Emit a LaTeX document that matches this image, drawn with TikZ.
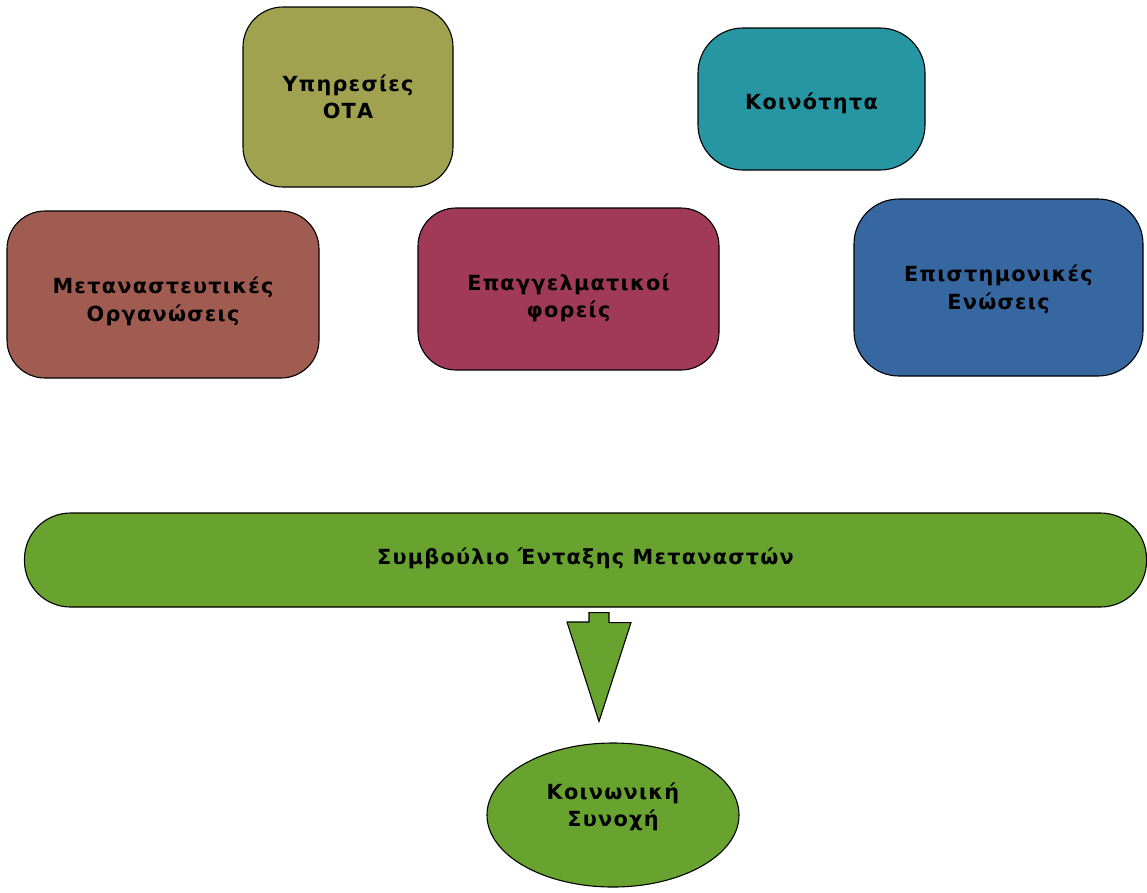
\documentclass[tikz,border=0pt]{standalone}
\usepackage{fontspec}
\setmainfont{DejaVu Sans}[BoldFont={DejaVu Sans Bold}]
\newfontfamily\boxfont{DejaVu Sans Bold}[LetterSpace=6]
\usetikzlibrary{shapes.geometric}
\definecolor{olivebox}{HTML}{A0A24F}
\definecolor{tealbox}{HTML}{2596A2}
\definecolor{brownbox}{HTML}{A15C52}
\definecolor{crimsonbox}{HTML}{A13A59}
\definecolor{bluebox}{HTML}{3767A1}
\definecolor{greenbox}{HTML}{68A330}
\begin{document}
\begin{tikzpicture}[x=1pt,y=-1pt,
  every node/.style={font=\boxfont\fontsize{20.8}{27.5}\selectfont, text=black, align=center},
  rbox/.style={draw=black, line width=1.1pt, rounded corners=#1, inner sep=0pt},
  rbox/.default=40pt,
  blockarrow/.style={draw=black, line width=1.1pt, fill=greenbox}]
\useasboundingbox (0,0) rectangle (1147,892);
\node[rbox=40pt, fill=olivebox, minimum width=210pt, minimum height=180pt] (ota) at (348,97) {Υπηρεσίες\\ΟΤΑ};
\node[rbox=45pt, fill=tealbox, minimum width=227pt, minimum height=142pt,
  label={[yshift=-4pt]center:Κοινότητα}] (koin) at (811.5,99) {};
\node[rbox=38pt, fill=brownbox, minimum width=312pt, minimum height=167pt,
  label={[yshift=-7pt]center:{Μεταναστευτικές\\Οργανώσεις}}] (metan) at (163,294.5) {};
\node[rbox=38pt, fill=crimsonbox, minimum width=301pt, minimum height=162pt,
  label={[yshift=-9pt]center:{Επαγγελματικοί\\φορείς}}] (epag) at (568.5,289) {};
\node[rbox=45pt, fill=bluebox, minimum width=289pt, minimum height=177pt,
  label={[yshift=-2pt]center:{Επιστημονικές\\Ενώσεις}}] (epist) at (998.5,287.5) {};
\node[rbox=46pt, fill=greenbox, minimum width=1122pt, minimum height=94pt,
  label={[yshift=2pt]center:Συμβούλιο Ένταξης Μεταναστών}] (symv) at (585.5,560) {};
\node[ellipse, draw=black, line width=1.1pt, fill=greenbox, minimum width=252pt, minimum height=144pt, inner sep=0pt,
  label={[yshift=8pt]center:{Κοινωνική\\Συνοχή}}] (synoxi) at (613,815) {};
% block arrow from council to cohesion
\coordinate (at) at ([yshift=-5pt]symv.south -| 599,0);
\coordinate (tip) at ([yshift=21pt]synoxi.north -| 599,0);
\draw[blockarrow] (at) ++(-10,0) -- ++(20,0) -- ++(0,10) -- ++(22,0) -- (tip) -- (567,622) -- ++(22,0) -- cycle;
\end{tikzpicture}
\end{document}
